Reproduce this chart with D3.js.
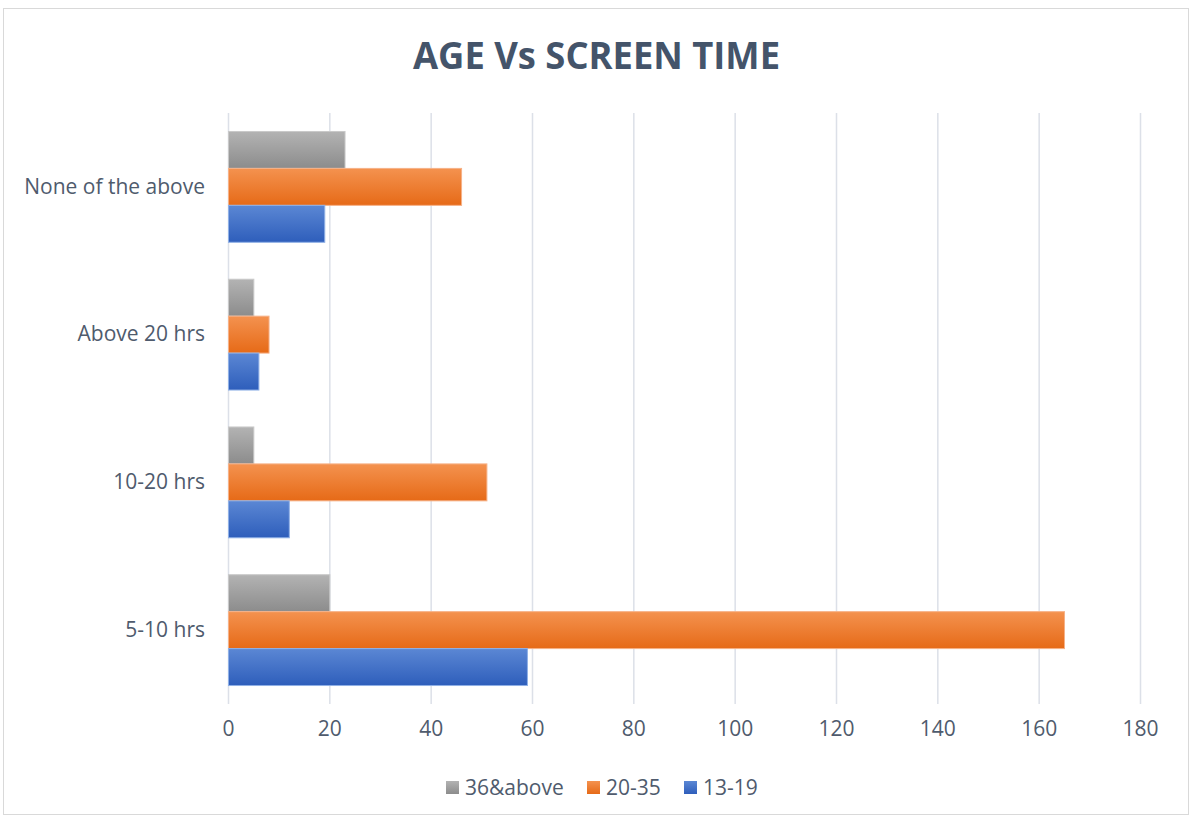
<!DOCTYPE html>
<html>
<head>
<meta charset="utf-8">
<script src="https://cdn.jsdelivr.net/npm/d3@7"></script>
<style>
  html, body { margin: 0; padding: 0; background: #fff; }
  svg { display: block; }
</style>
</head>
<body>
<svg id="chart" width="1193" height="821"></svg>
<script>
// Screen-time buckets, listed top to bottom
const categories = ["None of the above", "Above 20 hrs", "10-20 hrs", "5-10 hrs"];
// Age groups, drawn top to bottom inside each bucket
const seriesNames = ["36&above", "20-35", "13-19"];
const values36Above = [23, 5, 5, 20];
const values20to35 = [46, 8, 51, 165];
const values13to19 = [19, 6, 12, 59];
const tickValues = [0, 20, 40, 60, 80, 100, 120, 140, 160, 180];

const seriesValues = [values36Above, values20to35, values13to19];
const palette = [
  { top: "#b3b3b3", bottom: "#8c8c8c", edge: "#c9c9c9" },
  { top: "#f4924f", bottom: "#e66a17", edge: "#f6b187" },
  { top: "#5b87d4", bottom: "#2e5ebb", edge: "#8fb0e6" }
];

const W = 1193, H = 821;
const svg = d3.select("#chart");
const textColor = "#4f5b6d";
const fontFamily = "'Open Sans', 'DejaVu Sans', sans-serif";
const labelSize = 21;

svg.append("rect").attr("width", W).attr("height", H).attr("fill", "#fff");
svg.append("rect")
  .attr("x", 3.5).attr("y", 8.5).attr("width", 1185).attr("height", 806)
  .attr("fill", "none").attr("stroke", "#d9d9d9").attr("stroke-width", 1);

// Vertical gradients for the bar fills
const defs = svg.append("defs");
palette.forEach((p, i) => {
  const g = defs.append("linearGradient")
    .attr("id", "grad" + i).attr("x1", 0).attr("y1", 0).attr("x2", 0).attr("y2", 1);
  g.append("stop").attr("offset", "0%").attr("stop-color", p.top);
  g.append("stop").attr("offset", "100%").attr("stop-color", p.bottom);
});

const plotTop = 113, plotBottom = 704, plotLeft = 228, plotRight = 1140;

const x = d3.scaleLinear().domain([0, 180]).range([plotLeft, plotRight]);
const y = d3.scaleBand().domain(categories).range([plotTop, plotBottom]).padding(0);
const inner = d3.scaleBand().domain(seriesNames)
  .range([y.bandwidth() / 8, y.bandwidth() * 7 / 8]).padding(0);

// Title
svg.append("text")
  .attr("x", (413 + 780) / 2).attr("y", 69)
  .attr("text-anchor", "middle")
  .attr("font-family", fontFamily).attr("font-weight", 700)
  .attr("font-size", 38).attr("fill", "#44546a")
  .attr("textLength", 367).attr("lengthAdjust", "spacingAndGlyphs")
  .text("AGE Vs SCREEN TIME");

// Gridlines
svg.append("g").selectAll("line").data(tickValues).join("line")
  .attr("x1", d => x(d) + 0.5).attr("x2", d => x(d) + 0.5)
  .attr("y1", plotTop).attr("y2", plotBottom)
  .attr("stroke", "#dce0e8").attr("stroke-width", 1.5);

// X axis tick labels
const xAxis = d3.axisBottom(x).tickValues(tickValues).tickSize(0).tickPadding(0);
const xg = svg.append("g").attr("transform", `translate(0,${plotBottom + 23})`).call(xAxis);
xg.select(".domain").remove();
xg.selectAll("text")
  .attr("font-family", fontFamily).attr("font-size", labelSize).attr("fill", textColor)
  .attr("dy", "0.45em");

// Category labels
const yAxis = d3.axisLeft(y).tickSize(0).tickPadding(0);
const yg = svg.append("g").attr("transform", `translate(205,0)`).call(yAxis);
yg.select(".domain").remove();
yg.selectAll("text")
  .attr("font-family", fontFamily).attr("font-size", labelSize).attr("fill", textColor);

// Bars
seriesNames.forEach((name, si) => {
  svg.append("g").selectAll("rect")
    .data(categories.map((c, ci) => ({ c, v: seriesValues[si][ci] })))
    .join("rect")
    .attr("x", x(0) + 0.5)
    .attr("y", d => y(d.c) + inner(name))
    .attr("width", d => x(d.v) - x(0))
    .attr("height", inner.bandwidth())
    .attr("fill", `url(#grad${si})`)
    .attr("stroke", palette[si].edge).attr("stroke-width", 1);
});

// Legend
const legendItems = [
  { name: seriesNames[0], x: 446 },
  { name: seriesNames[1], x: 587 },
  { name: seriesNames[2], x: 684 }
];
const lg = svg.append("g");
legendItems.forEach((it, i) => {
  lg.append("rect")
    .attr("x", it.x).attr("y", 781).attr("width", 13).attr("height", 13)
    .attr("fill", `url(#grad${i})`);
  lg.append("text")
    .attr("x", it.x + 19).attr("y", 795)
    .attr("font-family", fontFamily).attr("font-size", labelSize).attr("fill", textColor)
    .text(it.name);
});
</script>
</body>
</html>
